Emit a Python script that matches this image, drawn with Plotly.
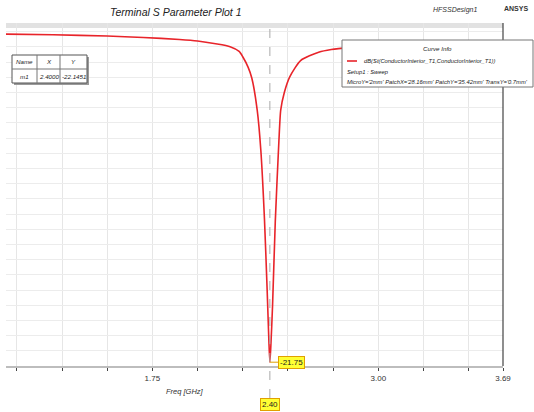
import plotly.graph_objects as go

# ---- data ----
freq_ghz = [0.94, 1.20, 1.50, 1.70, 1.90, 2.00, 2.10, 2.18, 2.23, 2.25, 2.28, 2.30,
            2.33, 2.35, 2.37, 2.385, 2.395, 2.40, 2.405, 2.415, 2.43, 2.45, 2.46,
            2.48, 2.51, 2.57, 2.67, 2.74, 2.84, 3.00, 3.20, 3.40, 3.69]
s11_db = [-0.16, -0.20, -0.29, -0.38, -0.52, -0.62, -0.80, -0.99, -1.30, -1.65, -2.35, -3.05,
          -5.16, -7.80, -12.3, -17.0, -20.5, -21.75, -20.8, -18.0, -12.5, -7.2, -5.16,
          -4.00, -2.97, -1.90, -1.35, -1.17, -1.05, -0.95, -0.87, -0.81, -0.75]

x_grid = [1.0, 1.25, 1.5, 1.75, 2.0, 2.25, 2.5, 2.75, 3.0, 3.25, 3.5, 3.69]
x_labels = ["", "", "", "1.75", "", "", "", "", "3.00", "", "", "3.69"]

marker_freq = 2.40
marker_db = -21.75
marker_table = [["Name", "X", "Y"], ["m1", "2.4000", "-22.1451"]]

title = "Terminal S Parameter Plot 1"
x_title = "Freq [GHz]"
curve_name = "dB(St(ConductorInterior_T1,ConductorInterior_T1))"
setup_name = "Setup1 : Sweep"
params = "MicroY='2mm' PatchX='28.16mm' PatchY='35.42mm' TransY='0.7mm'"

# ---- geometry helpers (pixel -> paper) ----
L, R, T, B = 6, 503, 23, 366
W, H = 534, 412
def px(x):
    return (x - L) / (R - L)
def py(y):
    return (B - y) / (B - T)

FONT = "Liberation Sans, Arial, sans-serif"
RED = "#e8242a"

def text_at(x, y, txt, size, anchor="center", color="#222"):
    return dict(x=px(x), y=py(y), xref="paper", yref="paper", xanchor=anchor,
                yanchor="middle", text=txt, showarrow=False,
                font=dict(size=size, color=color, family=FONT))

fig = go.Figure()
fig.add_trace(go.Scatter(x=freq_ghz, y=s11_db, mode="lines",
                         line=dict(color=RED, width=1.6, shape="spline", smoothing=0.6),
                         showlegend=False, hoverinfo="skip"))

fig.update_layout(
    width=W, height=H,
    margin=dict(l=L, r=W - R, t=T, b=H - B),
    paper_bgcolor="white", plot_bgcolor="white",
    font=dict(family=FONT, size=8, color="#222"),
    xaxis=dict(range=[0.94, 3.69], tickmode="array", tickvals=x_grid, ticktext=x_labels,
               showgrid=True, gridcolor="#e6e6e6", gridwidth=1, zeroline=False,
               ticks="outside", ticklen=3, tickcolor="#444", tickwidth=1,
               showline=True, linecolor="#bdbdbd", linewidth=2,
               tickfont=dict(size=8, color="#333")),
    yaxis=dict(range=[-22.0, 0.57], dtick=1, tick0=-22, showgrid=True, gridcolor="#ececec",
               gridwidth=1, zeroline=False, showticklabels=False, showline=False, ticks=""),
)

shapes = []
annots = []

# top gray band and right dark frame line
shapes.append(dict(type="rect", xref="paper", yref="paper", x0=0, x1=1, y0=py(28), y1=py(23),
                   fillcolor="#e2e2e2", line=dict(width=0), layer="below"))
shapes.append(dict(type="line", xref="paper", yref="paper", x0=1, x1=1, y0=0, y1=1,
                   line=dict(color="#444", width=1.2)))

# marker dashed line
shapes.append(dict(type="line", xref="x", yref="paper", x0=marker_freq, x1=marker_freq,
                   y0=py(398), y1=1, line=dict(color="#aaaaaa", width=1, dash="dash")))

# marker value callouts
annots.append(dict(x=marker_freq, y=marker_db, xref="x", yref="y", text="-21.75",
                   showarrow=True, arrowhead=0, arrowwidth=1, arrowcolor="#e0a000",
                   ax=22, ay=0, bgcolor="#ffff33", bordercolor="#e0a000", borderwidth=1,
                   borderpad=1, font=dict(size=8, color="#222", family=FONT)))
annots.append(dict(x=marker_freq, y=py(404), xref="x", yref="paper", text="2.40",
                   xanchor="center", yanchor="middle",
                   showarrow=False, bgcolor="#ffff33", bordercolor="#e0a000", borderwidth=1,
                   borderpad=1, font=dict(size=8, color="#222", family=FONT)))

# x-axis title
annots.append(text_at(185, 392, "<i>%s</i>" % x_title, 7.5, color="#333"))

# marker table
tx0, tx1, ty0, ty1 = 12, 87, 55, 83
col_x = [12, 37, 60, 87]
shapes.append(dict(type="rect", xref="paper", yref="paper", x0=px(tx0 + 2), x1=px(tx1 + 2),
                   y0=py(ty1 + 2), y1=py(ty0 + 2), fillcolor="#9a9a9a", line=dict(width=0)))
shapes.append(dict(type="rect", xref="paper", yref="paper", x0=px(tx0), x1=px(tx1),
                   y0=py(ty1), y1=py(ty0), fillcolor="white", line=dict(color="#555", width=1)))
for cx in col_x[1:-1]:
    shapes.append(dict(type="line", xref="paper", yref="paper", x0=px(cx), x1=px(cx),
                       y0=py(ty1), y1=py(ty0), line=dict(color="#777", width=1)))
shapes.append(dict(type="line", xref="paper", yref="paper", x0=px(tx0), x1=px(tx1),
                   y0=py(69), y1=py(69), line=dict(color="#777", width=1)))
for r, row in enumerate(marker_table):
    yc = 62 if r == 0 else 76
    for c, txt in enumerate(row):
        xc = (col_x[c] + col_x[c + 1]) / 2
        annots.append(text_at(xc, yc, "<i>%s</i>" % txt, 6.2))

# curve info box
bx0, bx1, by0, by1 = 342, 533, 40, 87
shapes.append(dict(type="rect", xref="paper", yref="paper", x0=px(bx0), x1=px(bx1),
                   y0=py(by1), y1=py(by0), fillcolor="white", line=dict(color="#777", width=1)))
shapes.append(dict(type="line", xref="paper", yref="paper", x0=px(347), x1=px(357),
                   y0=py(61), y1=py(61), line=dict(color=RED, width=1.6)))
annots.append(text_at((bx0 + bx1) / 2, 48, "<i>Curve Info</i>", 6.2))
annots.append(text_at(362, 61, "<i>%s</i>" % curve_name, 5.8, anchor="left"))
annots.append(text_at(345, 72, "<i>%s</i>" % setup_name, 5.8, anchor="left"))
annots.append(text_at(345, 82, "<i>%s</i>" % params, 5.8, anchor="left"))

# titles
annots.append(text_at(176, 12, "<i>%s</i>" % title, 10.5))
annots.append(text_at(455, 10, "<i>HFSSDesign1</i>", 7, color="#333"))
annots.append(text_at(516, 9, "<b>ANSYS</b>", 7, color="#333"))

fig.update_layout(shapes=shapes, annotations=annots)
fig.write_html("out.html", config={"displayModeBar": False},
               post_script="document.body.style.margin='0';")
